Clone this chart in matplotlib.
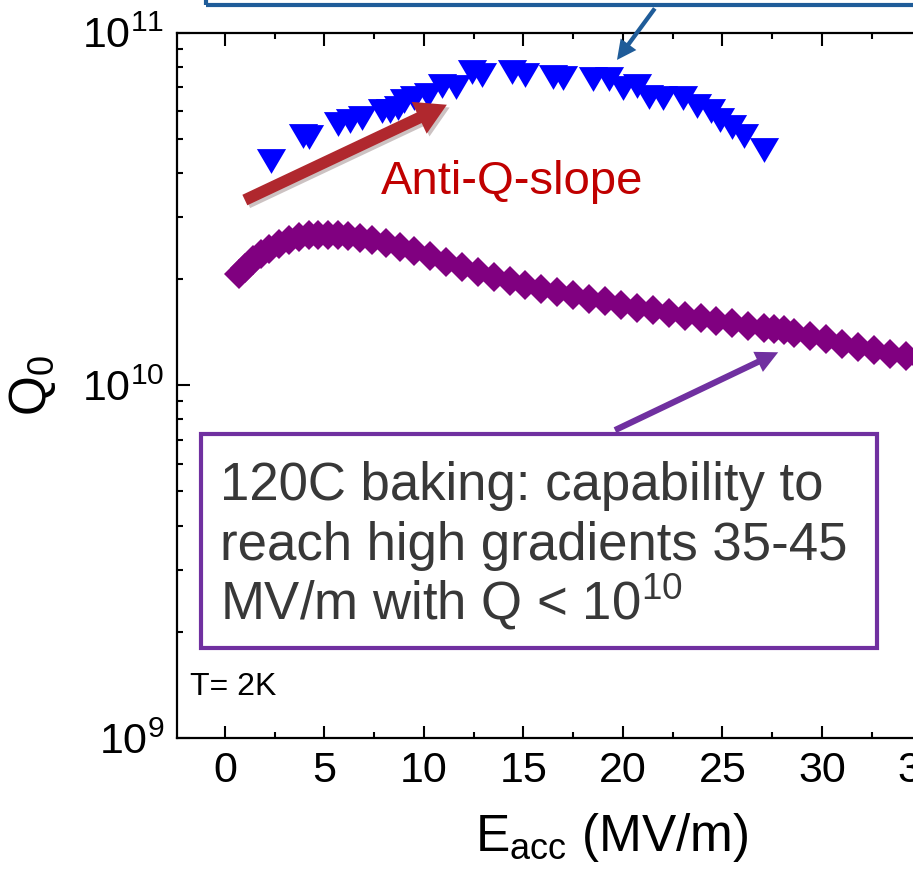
import matplotlib

matplotlib.use("Agg")
import matplotlib.pyplot as plt
from matplotlib.patches import Rectangle, ArrowStyle
from matplotlib import patheffects
from matplotlib.ticker import LogLocator, MultipleLocator

plt.rcParams["font.family"] = ["Liberation Sans", "DejaVu Sans"]
plt.rcParams["mathtext.default"] = "regular"

# Q0 vs Eacc, 120C baked cavity (purple) and anti-Q-slope cavity (blue)
baked_e = [0.7, 1.0, 1.4, 1.8, 2.2, 2.7, 3.2, 3.7, 4.2, 4.7, 5.2, 5.7, 6.2,
           6.8, 7.4, 8.1, 8.8, 9.5, 10.3, 11.1, 11.9, 12.7, 13.5, 14.3, 15.1,
           15.9, 16.7, 17.5, 18.3, 19.1, 19.9, 20.7, 21.5, 22.3, 23.1, 23.9,
           24.7, 25.5, 26.3, 27.1, 27.6, 28.1, 28.6, 29.4, 30.2, 31.0, 31.8,
           32.6, 33.4, 34.2, 35.0, 35.8]
baked_q = [2.07e10, 2.15e10, 2.26e10, 2.35e10, 2.44e10, 2.52e10, 2.58e10,
           2.63e10, 2.66e10, 2.67e10, 2.67e10, 2.66e10, 2.65e10, 2.62e10,
           2.58e10, 2.53e10, 2.47e10, 2.40e10, 2.32e10, 2.24e10, 2.16e10,
           2.09e10, 2.03e10, 1.97e10, 1.92e10, 1.88e10, 1.84e10, 1.80e10,
           1.76e10, 1.73e10, 1.69e10, 1.66e10, 1.63e10, 1.60e10, 1.57e10,
           1.55e10, 1.52e10, 1.50e10, 1.47e10, 1.45e10, 1.44e10, 1.43e10,
           1.41e10, 1.38e10, 1.35e10, 1.31e10, 1.28e10, 1.26e10, 1.23e10,
           1.21e10, 1.19e10, 1.17e10]

doped_e = [2.3, 3.9, 4.2, 5.7, 6.3, 6.9, 7.9, 8.3, 8.7, 9.0, 9.5, 10.2, 10.9,
           11.6, 12.4, 12.9, 14.4, 15.1, 16.5, 17.0, 18.5, 19.3, 20.0, 20.7,
           21.3, 22.0, 23.0, 23.7, 24.4, 24.9, 25.5, 26.1, 27.1]
doped_q = [4.31e10, 5.10e10, 5.05e10, 5.52e10, 5.60e10, 5.74e10, 6.00e10,
           6.00e10, 6.10e10, 6.38e10, 6.50e10, 6.67e10, 7.05e10, 7.00e10,
           7.73e10, 7.60e10, 7.73e10, 7.60e10, 7.50e10, 7.45e10, 7.36e10,
           7.36e10, 6.95e10, 7.05e10, 6.58e10, 6.50e10, 6.50e10, 6.18e10,
           6.00e10, 5.64e10, 5.40e10, 5.08e10, 4.65e10]

W, H = 913, 885
fig = plt.figure(figsize=(W / 100, H / 100), dpi=100)

# axes box in pixels: left spine 177, bottom 738, top 32.5; x scale 19.9 px per MV/m
x_lo, x_hi = -2.41, 40.0
px_per = 19.9
left, bottom, top = 177, 738, 32.5
ax = fig.add_axes([left / W, 1 - bottom / H, (x_hi - x_lo) * px_per / W,
                   (bottom - top) / H])
ax.set_xlim(x_lo, x_hi)
ax.set_yscale("log")
ax.set_ylim(1e9, 1e11)

tri = [(-1, 0.85), (1, 0.85), (0, -0.85)]
ax.plot(baked_e, baked_q, ls="none", marker="D", ms=15.5, mew=0,
        color="#800080", clip_on=False, zorder=3)
ax.plot(doped_e, doped_q, ls="none", marker=tri, ms=21, mew=0,
        color="#0000FF", zorder=3)

ax.xaxis.set_major_locator(MultipleLocator(5))
ax.xaxis.set_minor_locator(MultipleLocator(2.5))
ax.yaxis.set_major_locator(LogLocator(base=10, numticks=5))
ax.yaxis.set_minor_locator(LogLocator(base=10, subs=range(2, 10), numticks=20))
ax.tick_params(which="both", direction="in", top=True, right=False,
               width=1.5, labelsize=31, pad=9)
ax.tick_params(which="major", length=9)
ax.tick_params(which="minor", length=4)
for side in ("left", "bottom", "top"):
    ax.spines[side].set_linewidth(1.6)
ax.spines["right"].set_visible(False)

fig.text(612 / W, 1 - 837 / H, "E$_{acc}$ (MV/m)", fontsize=37,
         ha="center", va="center")
fig.text(33 / W, 1 - 385 / H, "Q$_0$", fontsize=37, rotation=90,
         ha="center", va="center")
fig.text(190 / W, 1 - 687 / H, "T= 2K", fontsize=23, va="center", ha="left")

# arrows (data coordinates)
shadow = [patheffects.SimplePatchShadow(offset=(2, -2), alpha=0.25),
          patheffects.Normal()]
ax.annotate("", xy=(11.15, 6.24e10), xytext=(1.0, 3.35e10),
            arrowprops=dict(arrowstyle=ArrowStyle.Simple(head_length=1.0,
                                                         head_width=1.15,
                                                         tail_width=0.38),
                            mutation_scale=22, color="#B0282E", lw=0,
                            shrinkA=0, shrinkB=0, path_effects=shadow))
ax.annotate("", xy=(27.8, 1.24e10), xytext=(19.6, 7.46e9),
            arrowprops=dict(arrowstyle=ArrowStyle.Simple(head_length=1.0,
                                                         head_width=1.0,
                                                         tail_width=0.28),
                            mutation_scale=16, color="#7030A0", lw=0,
                            shrinkA=0, shrinkB=0))
ax.annotate("", xy=(19.7, 8.36e10), xytext=(21.6, 1.17e11),
            annotation_clip=False,
            arrowprops=dict(arrowstyle=ArrowStyle.Simple(head_length=1.0,
                                                         head_width=1.0,
                                                         tail_width=0.22),
                            mutation_scale=14, color="#1F5C99", lw=0,
                            shrinkA=0, shrinkB=0))

fig.text(512 / W, 1 - 182 / H, "Anti-Q-slope", fontsize=34, color="#C00000",
         ha="center", va="center")

# purple annotation box
fig.patches.append(Rectangle((201 / W, 1 - 648 / H), 676 / W, 214 / H,
                             transform=fig.transFigure, fill=True,
                             facecolor="white", edgecolor="#7030A0", lw=3,
                             zorder=5))
box_lines = ["120C baking: capability to", "reach high gradients 35-45",
             "MV/m with Q < 10$^{10}$"]
for i, line in enumerate(box_lines):
    fig.text(220 / W, 1 - (500 + 60 * i) / H, line, fontsize=38,
             color="#383838", ha="left", va="baseline", zorder=6)

# blue annotation box, cut off at the top edge
fig.patches.append(Rectangle((206 / W, 1 - 5 / H), 800 / W, 60 / H,
                             transform=fig.transFigure, fill=False,
                             edgecolor="#1F5C99", lw=3, zorder=5))

fig.savefig("out.png", dpi=100)
